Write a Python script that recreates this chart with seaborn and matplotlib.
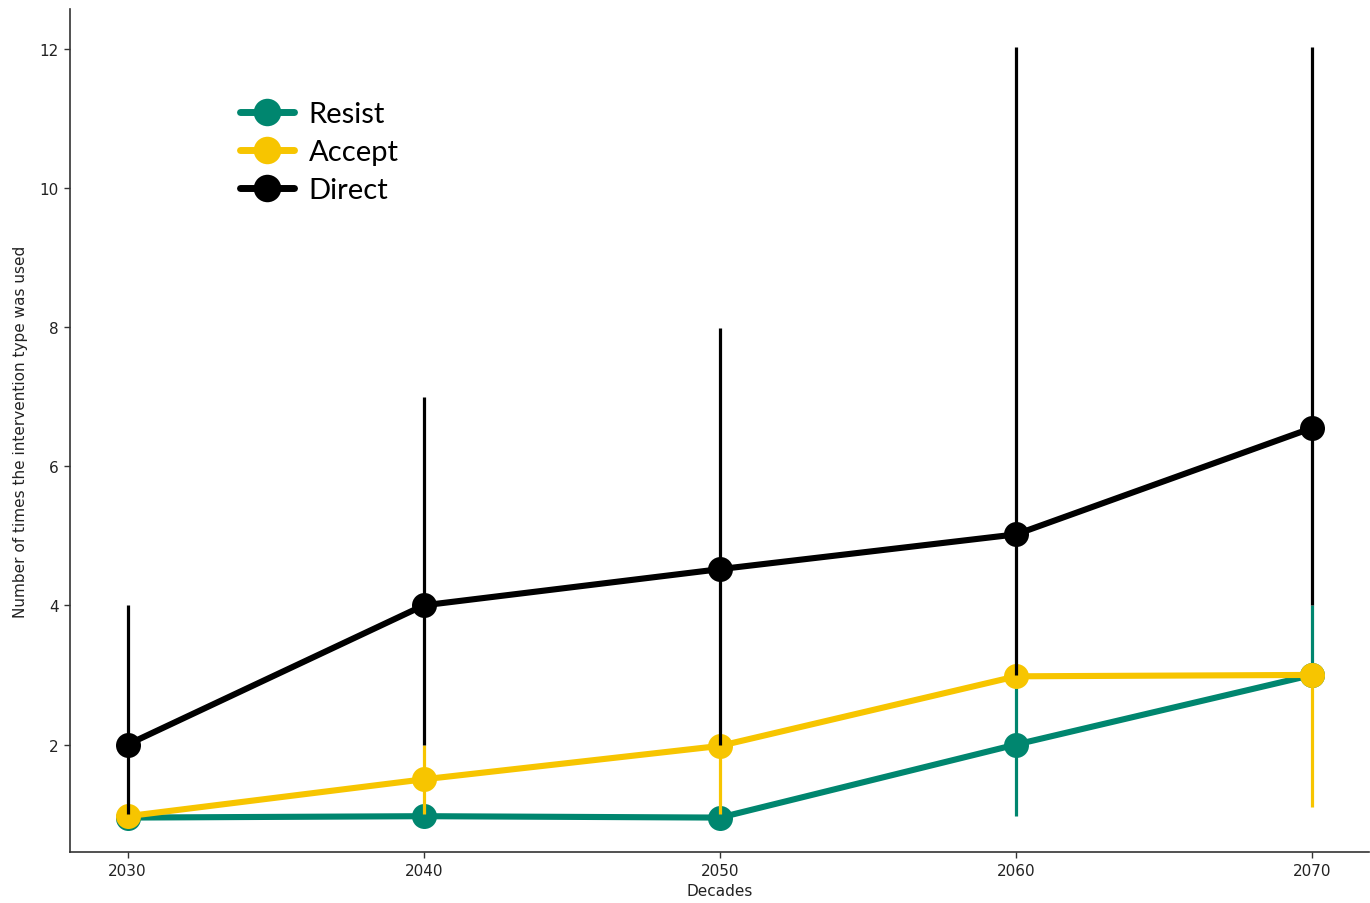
import matplotlib
matplotlib.use("Agg")
import matplotlib.pyplot as plt
import numpy as np
import pandas as pd
import seaborn as sns

# Decades on the x axis
decades = [2030, 2040, 2050, 2060, 2070]

# Mean number of uses per intervention type
resist_mean = [0.95, 0.97, 0.95, 2.0, 3.0]
accept_mean = [0.97, 1.5, 1.98, 2.98, 3.0]
direct_mean = [2.0, 4.0, 4.52, 5.02, 6.55]

# Lower / upper ends of the ranges
resist_low = [0.95, 0.97, 0.95, 0.97, 3.0]
resist_high = [0.95, 0.97, 0.95, 3.0, 4.0]
accept_low = [0.97, 1.0, 1.0, 2.98, 1.1]
accept_high = [0.97, 2.0, 2.0, 2.98, 3.0]
direct_low = [1.0, 2.0, 2.0, 3.0, 4.0]
direct_high = [4.0, 7.0, 7.98, 12.03, 12.03]

types = ["Resist", "Accept", "Direct"]
colors = {"Resist": "#00866F", "Accept": "#F7C500", "Direct": "#000000"}

means = {"Resist": resist_mean, "Accept": accept_mean, "Direct": direct_mean}
lows = {"Resist": resist_low, "Accept": accept_low, "Direct": direct_low}
highs = {"Resist": resist_high, "Accept": accept_high, "Direct": direct_high}

df = pd.DataFrame(
    [(d, t, m) for t in types for d, m in zip(decades, means[t])],
    columns=["Decades", "Type", "Uses"],
)

sns.set_theme(style="ticks")
plt.rcParams["font.family"] = ["DejaVu Sans"]

fig = plt.figure(figsize=(13.7, 9.04), dpi=100)
ax = fig.add_axes([0.051, 0.056, 0.948, 0.933])

for i, t in enumerate(types):
    # range bars, drawn under each series' line
    ax.vlines(decades, lows[t], highs[t], color=colors[t], linewidth=2.3,
              zorder=2 + 2 * i)
    sub = df[df["Type"] == t]
    sns.lineplot(data=sub, x="Decades", y="Uses", color=colors[t], ax=ax,
                 linewidth=4.4, marker="o", markersize=18,
                 markeredgewidth=0, label=t, zorder=3 + 2 * i)

ax.set_xlim(2028.05, 2071.9)
ax.set_ylim(0.45, 12.57)
ax.set_xticks(decades)
ax.set_xticklabels([str(d) for d in decades])
ax.set_yticks([2, 4, 6, 8, 10, 12])
ax.tick_params(axis="both", labelsize=11, length=4, width=1, color="#333333",
               labelcolor="#222222", pad=4)
ax.set_xlabel("Decades", fontsize=11, color="#222222", labelpad=3)
ax.set_ylabel("Number of times the intervention type was used", fontsize=11,
              color="#222222", labelpad=8)

for side in ["top", "right"]:
    ax.spines[side].set_visible(False)
for side in ["left", "bottom"]:
    ax.spines[side].set_color("#333333")
    ax.spines[side].set_linewidth(1.2)

leg = ax.legend(loc="upper left", bbox_to_anchor=(0.122, 0.905),
                frameon=False, prop={"family": "Lato", "size": 21},
                handlelength=1.85, handletextpad=0.5, labelspacing=0.42,
                borderaxespad=0, markerscale=1.1)
for line in leg.get_lines():
    line.set_linewidth(5.0)
for txt in leg.get_texts():
    txt.set_color("#000000")

fig.savefig("out.png", dpi=100)
